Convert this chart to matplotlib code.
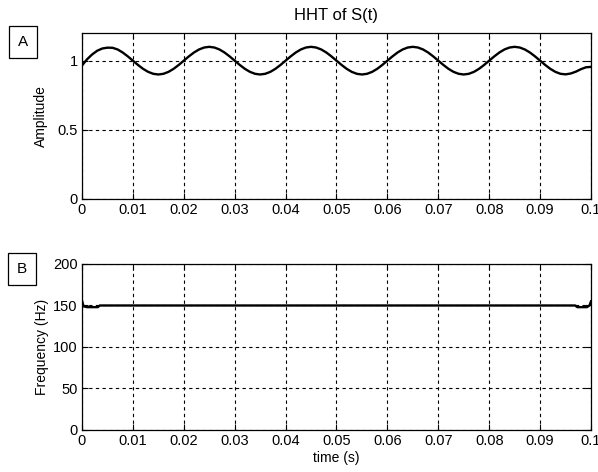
import matplotlib
matplotlib.use("Agg")
import matplotlib.pyplot as plt
import numpy as np

# values, t in steps of 1 ms
time_s = [i / 1000 for i in range(101)]
amplitude = [
    0.965, 1.010, 1.045, 1.072, 1.088, 1.094, 1.093, 1.081, 1.059, 1.031,
    1.000, 0.969, 0.941, 0.919, 0.905, 0.900, 0.905, 0.919, 0.941, 0.969,
    1.000, 1.031, 1.059, 1.081, 1.095, 1.100, 1.095, 1.081, 1.059, 1.031,
    1.000, 0.969, 0.941, 0.919, 0.905, 0.900, 0.905, 0.919, 0.941, 0.969,
    1.000, 1.031, 1.059, 1.081, 1.095, 1.100, 1.095, 1.081, 1.059, 1.031,
    1.000, 0.969, 0.941, 0.919, 0.905, 0.900, 0.905, 0.919, 0.941, 0.969,
    1.000, 1.031, 1.059, 1.081, 1.095, 1.100, 1.095, 1.081, 1.059, 1.031,
    1.000, 0.969, 0.941, 0.919, 0.905, 0.900, 0.905, 0.919, 0.941, 0.969,
    1.000, 1.031, 1.059, 1.081, 1.095, 1.100, 1.095, 1.081, 1.059, 1.031,
    1.000, 0.969, 0.941, 0.919, 0.905, 0.901, 0.907, 0.920, 0.938, 0.952,
    0.955,
]

freq_t = [0.0, 0.0003, 0.001, 0.0031, 0.0035, 0.0969, 0.0973, 0.0992, 0.0997, 0.1]
frequency = [156, 149, 148, 148, 150, 150, 148, 148, 150, 155]

x_ticks = [0, 0.01, 0.02, 0.03, 0.04, 0.05, 0.06, 0.07, 0.08, 0.09, 0.1]
x_tick_labels = ["0", "0.01", "0.02", "0.03", "0.04", "0.05", "0.06", "0.07", "0.08", "0.09", "0.1"]
amp_ticks = [0, 0.5, 1]
amp_tick_labels = ["0", "0.5", "1"]
freq_ticks = [0, 50, 100, 150, 200]

plt.rcParams["font.family"] = ["Liberation Sans", "DejaVu Sans"]
plt.rcParams["font.size"] = 10

fig = plt.figure(figsize=(5.98, 4.72), dpi=100)
ax1 = fig.add_axes([0.1371, 0.5784, 0.8512, 0.3517])
ax2 = fig.add_axes([0.1371, 0.0890, 0.8512, 0.3517])


def style_axes(ax):
    ax.set_xlim(0, 0.1)
    ax.set_xticks(x_ticks)
    ax.set_xticklabels(x_tick_labels)
    ax.grid(True, color="black", linestyle=(0, (3, 3)), linewidth=0.8)
    ax.tick_params(direction="in", length=4, top=True, right=True, colors="black",
                   pad=3, labelsize=10.5)
    for spine in ax.spines.values():
        spine.set_linewidth(0.9)


ax1.plot(time_s, amplitude, color="black", linewidth=1.7)
style_axes(ax1)
ax1.set_ylim(0, 1.2)
ax1.set_yticks(amp_ticks)
ax1.set_yticklabels(amp_tick_labels)
ax1.set_ylabel("Amplitude", labelpad=7)
ax1.set_title("HHT of S(t)", pad=9)

ax2.plot(freq_t, frequency, color="black", linewidth=1.7)
style_axes(ax2)
ax2.set_ylim(0, 200)
ax2.set_yticks(freq_ticks)
ax2.set_ylabel("Frequency (Hz)", labelpad=3)
ax2.set_xlabel("time (s)", labelpad=2)

box = dict(boxstyle="square,pad=0.6", facecolor="white", edgecolor="black", linewidth=0.9)
fig.text(23 / 598, 1 - 42 / 472, "A", ha="center", va="center", fontsize=11, bbox=box)
fig.text(22 / 598, 1 - 269 / 472, "B", ha="center", va="center", fontsize=11, bbox=box)

fig.savefig("out.png", dpi=100)
